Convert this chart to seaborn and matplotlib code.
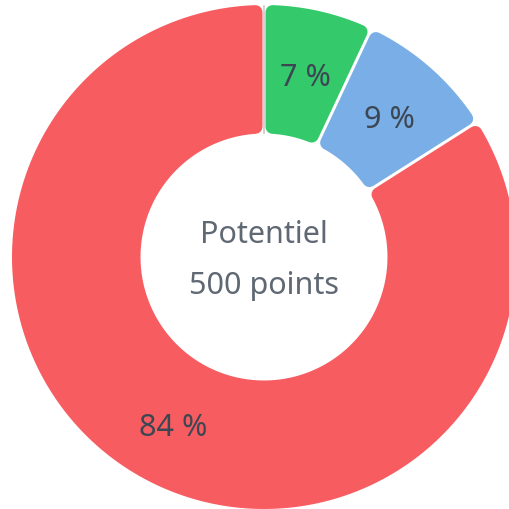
import numpy as np
import matplotlib
matplotlib.use("Agg")
import matplotlib.pyplot as plt
from matplotlib.path import Path
from matplotlib.patches import PathPatch
import seaborn as sns

# ---- data ----
categories = ["Autre", "Vert", "Bleu", "Rouge"]
values = [0, 7, 9, 84]
colors = ["#cfcfcf", "#34c96a", "#7aaee6", "#f75c61"]
center_title = "Potentiel"
center_sub = "500 points"

sns.set_theme(style="white")
plt.rcParams["font.family"] = ["Noto Sans", "DejaVu Sans"]

PX = 252.0  # pixels per data unit (outer radius)
fig = plt.figure(figsize=(5.09, 5.09), dpi=100)
ax = fig.add_axes([0, 0, 1, 1])

def fmt(p):
    return "" if p < 0.5 else f"{p:.0f} %"

wedges, texts, autotexts = ax.pie(
    values, colors=colors, radius=1.0, startangle=90, counterclock=False,
    wedgeprops=dict(width=0.51, linewidth=0), autopct=fmt, pctdistance=0.75,
    textprops=dict(fontsize=22, color="#3c4753"))

corner = 7.0 / PX   # rounded corner radius
gap = 3.0 / PX      # white gap between slices
lw_pt = 2 * 7.0 * 72 / 100

for w, v, c in zip(wedges, values, colors):
    t1, t2 = w.theta1, w.theta2
    ro = w.r
    ri = w.r - w.width
    w.set_visible(False)
    if v == 0:
        a = np.deg2rad(t1)
        ax.plot([ri * np.cos(a), ro * np.cos(a)], [ri * np.sin(a), ro * np.sin(a)],
                color=c, lw=1.3, solid_capstyle="butt", zorder=3)
        continue
    off = corner + gap / 2
    r_o = ro - corner
    r_i = ri + corner
    do = np.rad2deg(np.arcsin(off / r_o))
    di = np.rad2deg(np.arcsin(off / r_i))
    ao = np.deg2rad(np.linspace(t1 + do, t2 - do, 200))
    ai = np.deg2rad(np.linspace(t2 - di, t1 + di, 200))
    pts = np.concatenate([
        np.column_stack([r_o * np.cos(ao), r_o * np.sin(ao)]),
        np.column_stack([r_i * np.cos(ai), r_i * np.sin(ai)]),
    ])
    pts = np.vstack([pts, pts[:1]])
    patch = PathPatch(Path(pts, closed=True), facecolor=c, edgecolor=c,
                      lw=lw_pt, joinstyle="round", zorder=2)
    ax.add_patch(patch)

for t in autotexts:
    t.set_zorder(5)
    x, y = t.get_position()
    t.set_position((x, y - 5 / PX))

ax.text(0, 0.087, center_title, ha="center", va="center", fontsize=22, color="#5f6873")
ax.text(0, -0.115, center_sub, ha="center", va="center", fontsize=22, color="#5f6873")

ax.set_xlim(-264 / PX, 245 / PX)
ax.set_ylim(-252 / PX, 257 / PX)
ax.set_aspect("equal")
ax.axis("off")
fig.savefig("out.png", dpi=100)
